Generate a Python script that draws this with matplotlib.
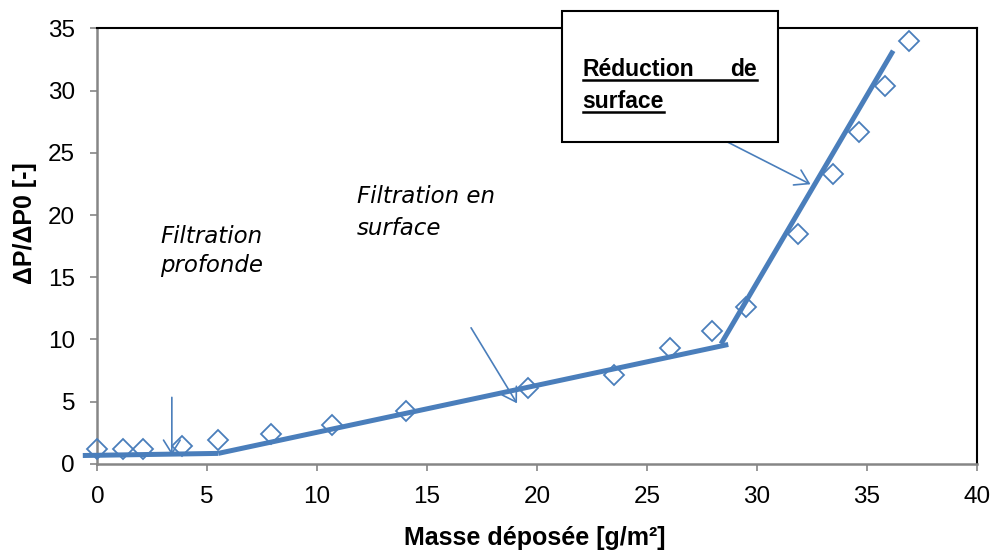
import matplotlib.pyplot as plt
from matplotlib.patches import Rectangle
from matplotlib.lines import Line2D

masse = [0, 1.18, 2.09, 3.83, 5.5, 7.9, 10.66, 14.03, 19.59, 23.48, 26.05,
         27.96, 29.5, 31.85, 33.45, 34.63, 35.84, 36.93]
dp = [1.18, 1.18, 1.18, 1.47, 1.93, 2.4, 3.16, 4.28, 6.07, 7.14, 9.33,
      10.7, 12.6, 18.5, 23.27, 26.7, 30.4, 34.0]

# droites de tendance (3 regimes)
fit1_x = [-0.66, 5.5]
fit1_y = [0.68, 0.85]
fit2_x = [5.5, 28.7]
fit2_y = [0.85, 9.6]
fit3_x = [28.37, 36.2]
fit3_y = [9.65, 33.2]

xticks = [0, 5, 10, 15, 20, 25, 30, 35, 40]
yticks = [0, 5, 10, 15, 20, 25, 30, 35]

blue = '#4A7EBB'
grey = '#868686'

plt.rcParams['font.family'] = ['Liberation Sans', 'DejaVu Sans']

fig = plt.figure(figsize=(9.93, 5.54), dpi=100)
ax = fig.add_axes([0.098, 0.1625, 0.8856, 0.7864])

for fx, fy in [(fit1_x, fit1_y), (fit2_x, fit2_y), (fit3_x, fit3_y)]:
    ax.plot(fx, fy, color=blue, lw=3.6, solid_capstyle='butt', clip_on=False, zorder=3)

ax.plot(masse, dp, linestyle='none', marker='D', markersize=10,
        markerfacecolor='none', markeredgecolor=blue, markeredgewidth=1.3,
        clip_on=False, zorder=4)

ax.set_xlim(0, 40)
ax.set_ylim(0, 35)
ax.set_xticks(xticks)
ax.set_yticks(yticks)
ax.tick_params(axis='both', direction='out', length=5, width=1.2, color=grey,
               labelsize=17.5, labelcolor='black')
ax.tick_params(axis='y', pad=11)
ax.tick_params(axis='x', pad=11)
ax.spines['left'].set_color(grey)
ax.spines['bottom'].set_color(grey)
ax.spines['left'].set_linewidth(1.8)
ax.spines['bottom'].set_linewidth(1.8)
ax.spines['top'].set_linewidth(1.5)
ax.spines['right'].set_linewidth(1.5)

fig.text(0.5385, 0.029, 'Masse déposée [g/m²]', fontsize=18, fontweight='bold',
         ha='center', va='center')
fig.text(0.025, 0.598, 'ΔP/ΔP0 [-]', fontsize=18, fontweight='bold',
         ha='center', va='center', rotation=90)

# fleches
arrow = dict(arrowstyle='->,head_length=0.8,head_width=0.5', color=blue, lw=1.2,
             shrinkA=0, shrinkB=0, mutation_scale=12)
ax.annotate('', xy=(3.39, 0.72), xytext=(3.39, 5.35), arrowprops=arrow, zorder=5)
ax.annotate('', xy=(19.09, 4.87), xytext=(17.0, 10.94), arrowprops=arrow, zorder=5)
ax.annotate('', xy=(32.44, 22.47), xytext=(27.4, 27.0), arrowprops=arrow,
            zorder=5, annotation_clip=False)

# textes en italique
it = dict(fontsize=16.5, style='italic', family='DejaVu Sans', va='baseline', ha='left')
ax.text(2.85, 17.74, 'Filtration', **it)
ax.text(2.85, 15.4, 'profonde', **it)
ax.text(11.8, 20.98, 'Filtration en', **it)
ax.text(11.8, 18.4, 'surface', **it)

# encadre
box = Rectangle((562 / 993, 1 - 142 / 554), 216 / 993, 131 / 554,
                transform=fig.transFigure, facecolor='white', edgecolor='black',
                lw=1.5, zorder=10)
fig.patches.append(box)
bt = dict(fontsize=16.5, fontweight='bold', va='baseline', zorder=11)
t1 = fig.text(582.7 / 993, 1 - 76 / 554, 'Réduction', ha='left', **bt)
t2 = fig.text(757 / 993, 1 - 76 / 554, 'de', ha='right', **bt)
t3 = fig.text(582.7 / 993, 1 - 108 / 554, 'surface', ha='left', **bt)

fig.canvas.draw()
r = fig.canvas.get_renderer()
inv = fig.transFigure.inverted()
for a, b in [(t1, t2), (t3, t3)]:
    e1 = a.get_window_extent(r)
    e2 = b.get_window_extent(r)
    y = e1.y0 + 1
    p0 = inv.transform((e1.x0, y))
    p1 = inv.transform((e2.x1, y))
    fig.lines.append(Line2D([p0[0], p1[0]], [p0[1], p1[1]], transform=fig.transFigure,
                            color='black', lw=1.8, zorder=11))

fig.savefig('out.png', dpi=100)
